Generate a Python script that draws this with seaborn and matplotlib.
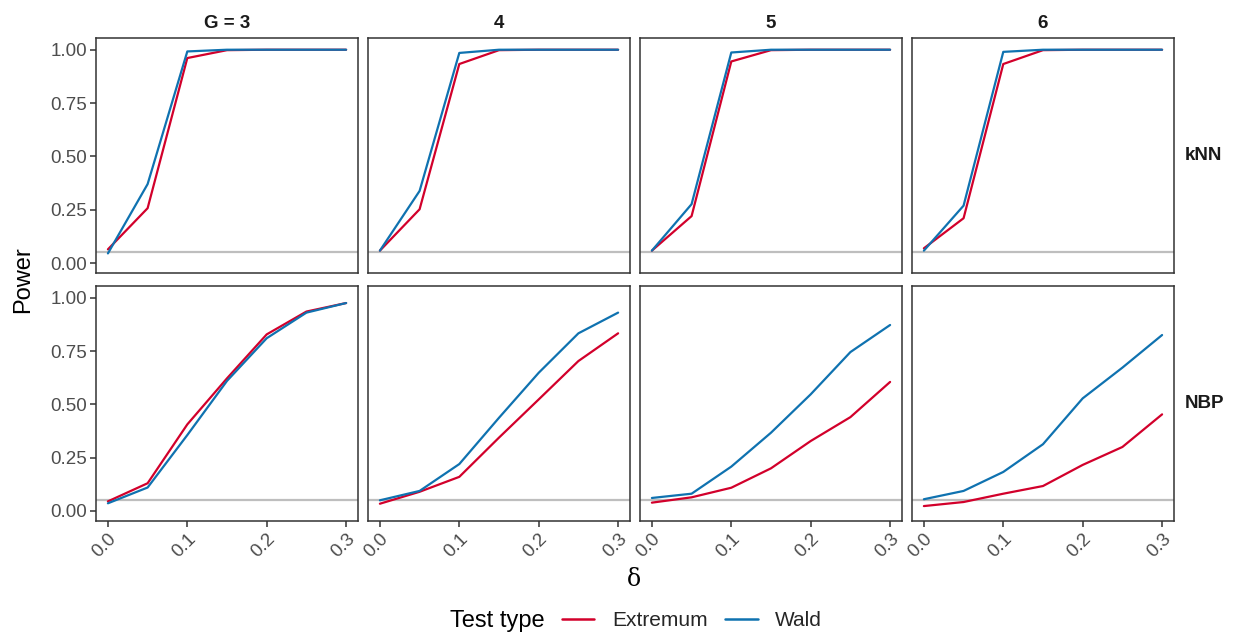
import numpy as np
import pandas as pd
import matplotlib
matplotlib.use("Agg")
import matplotlib.pyplot as plt
import seaborn as sns
from matplotlib.lines import Line2D

# ---------------- data ----------------
delta = [0.0, 0.05, 0.10, 0.15, 0.20, 0.25, 0.30]
group_labels = ["G = 3", "4", "5", "6"]
groups = [3, 4, 5, 6]
methods = ["kNN", "NBP"]
tests = ["Extremum", "Wald"]

knn_ext_g3 = [0.064, 0.257, 0.961, 0.998, 1.0, 1.0, 1.0]
knn_wald_g3 = [0.045, 0.370, 0.992, 1.0, 1.0, 1.0, 1.0]
knn_ext_g4 = [0.058, 0.252, 0.933, 0.998, 1.0, 1.0, 1.0]
knn_wald_g4 = [0.058, 0.338, 0.985, 1.0, 1.0, 1.0, 1.0]
knn_ext_g5 = [0.058, 0.220, 0.945, 0.998, 1.0, 1.0, 1.0]
knn_wald_g5 = [0.058, 0.276, 0.987, 1.0, 1.0, 1.0, 1.0]
knn_ext_g6 = [0.069, 0.210, 0.933, 0.998, 1.0, 1.0, 1.0]
knn_wald_g6 = [0.058, 0.269, 0.990, 1.0, 1.0, 1.0, 1.0]

nbp_ext_g3 = [0.045, 0.130, 0.406, 0.622, 0.828, 0.935, 0.975]
nbp_wald_g3 = [0.036, 0.110, 0.356, 0.610, 0.810, 0.930, 0.975]
nbp_ext_g4 = [0.034, 0.090, 0.160, 0.344, 0.523, 0.703, 0.833]
nbp_wald_g4 = [0.050, 0.094, 0.220, 0.437, 0.648, 0.833, 0.930]
nbp_ext_g5 = [0.039, 0.064, 0.109, 0.200, 0.328, 0.440, 0.605]
nbp_wald_g5 = [0.061, 0.081, 0.208, 0.367, 0.547, 0.745, 0.872]
nbp_ext_g6 = [0.023, 0.042, 0.081, 0.117, 0.216, 0.300, 0.453]
nbp_wald_g6 = [0.055, 0.094, 0.183, 0.313, 0.528, 0.672, 0.825]

alpha_level = 0.05
x_ticks = [0.0, 0.1, 0.2, 0.3]
x_tick_labels = ["0.0", "0.1", "0.2", "0.3"]
y_ticks = [0.0, 0.25, 0.5, 0.75, 1.0]
y_tick_labels = ["0.00", "0.25", "0.50", "0.75", "1.00"]

series = {
    ("kNN", 3): (knn_ext_g3, knn_wald_g3),
    ("kNN", 4): (knn_ext_g4, knn_wald_g4),
    ("kNN", 5): (knn_ext_g5, knn_wald_g5),
    ("kNN", 6): (knn_ext_g6, knn_wald_g6),
    ("NBP", 3): (nbp_ext_g3, nbp_wald_g3),
    ("NBP", 4): (nbp_ext_g4, nbp_wald_g4),
    ("NBP", 5): (nbp_ext_g5, nbp_wald_g5),
    ("NBP", 6): (nbp_ext_g6, nbp_wald_g6),
}

rows = []
for (m, g), (ext, wald) in series.items():
    for d, e, w in zip(delta, ext, wald):
        rows.append(dict(method=m, G=g, delta=d, power=e, test="Extremum"))
        rows.append(dict(method=m, G=g, delta=d, power=w, test="Wald"))
df = pd.DataFrame(rows)

palette = {"Extremum": "#D2002B", "Wald": "#0F72B0"}

# ---------------- style ----------------
sns.set_theme(style="white")
plt.rcParams["font.family"] = ["Liberation Sans", "DejaVu Sans"]

W, H = 1238, 640
fig, axes = plt.subplots(2, 4, figsize=(W / 100, H / 100), dpi=100,
                         sharex=True, sharey=True)
fig.subplots_adjust(left=96 / W, right=1174 / W, top=1 - 38 / H,
                    bottom=1 - 521 / H, wspace=0.038, hspace=0.055)

border = "#333333"
tick_col = "#4D4D4D"

for i, m in enumerate(methods):
    for j, g in enumerate(groups):
        ax = axes[i, j]
        sub = df[(df.method == m) & (df.G == g)]
        ax.axhline(alpha_level, color="#BEBEBE", lw=1.6, zorder=1)
        sns.lineplot(data=sub, x="delta", y="power", hue="test",
                     hue_order=tests, palette=palette, lw=1.6,
                     legend=False, ax=ax, zorder=2)
        ax.set_xlim(-0.015, 0.315)
        ax.set_ylim(-0.047, 1.055)
        ax.set_xlabel("")
        ax.set_ylabel("")
        for s in ax.spines.values():
            s.set_visible(True)
            s.set_color(border)
            s.set_linewidth(1.1)
        ax.tick_params(axis="both", which="both", direction="out",
                       length=4, width=1.1, color=border,
                       labelcolor=tick_col, labelsize=13.5, pad=2.5,
                       bottom=(i == 1), left=(j == 0))
        ax.set_xticks(x_ticks)
        ax.set_yticks(y_ticks)
        if j == 0:
            ax.set_yticklabels(y_tick_labels)
        if i == 1:
            ax.set_xticklabels(x_tick_labels, rotation=45, ha="right",
                               va="top", rotation_mode="anchor")
        if i == 0:
            ax.set_title(group_labels[j], fontsize=13.5, fontweight="bold",
                         color="#1A1A1A", pad=7)
        if j == 3:
            ax.text(1.042, 0.5, m, transform=ax.transAxes, fontsize=13.5,
                    fontweight="bold", color="#1A1A1A", ha="left",
                    va="center")

fig.text(23 / W, 1 - 280 / H, "Power", rotation=90, fontsize=17,
         ha="center", va="center", color="black")
fig.text(634 / W, 1 - 579 / H, "δ", fontsize=17, ha="center",
         va="center", color="black", family=["DejaVu Serif"])

# legend at bottom
fig.text(497 / W, 1 - 621 / H, "Test type", fontsize=17, ha="center",
         va="center", color="black")
handles = [Line2D([0], [0], color=palette[t], lw=1.8) for t in tests]
fig.legend(handles, tests, loc="center left",
           bbox_to_anchor=(562 / W, 1 - 621 / H), ncol=2, frameon=False,
           fontsize=15, handlelength=1.55, handletextpad=0.85,
           columnspacing=0.85, borderaxespad=0, borderpad=0)

fig.savefig("out.png", dpi=100)
